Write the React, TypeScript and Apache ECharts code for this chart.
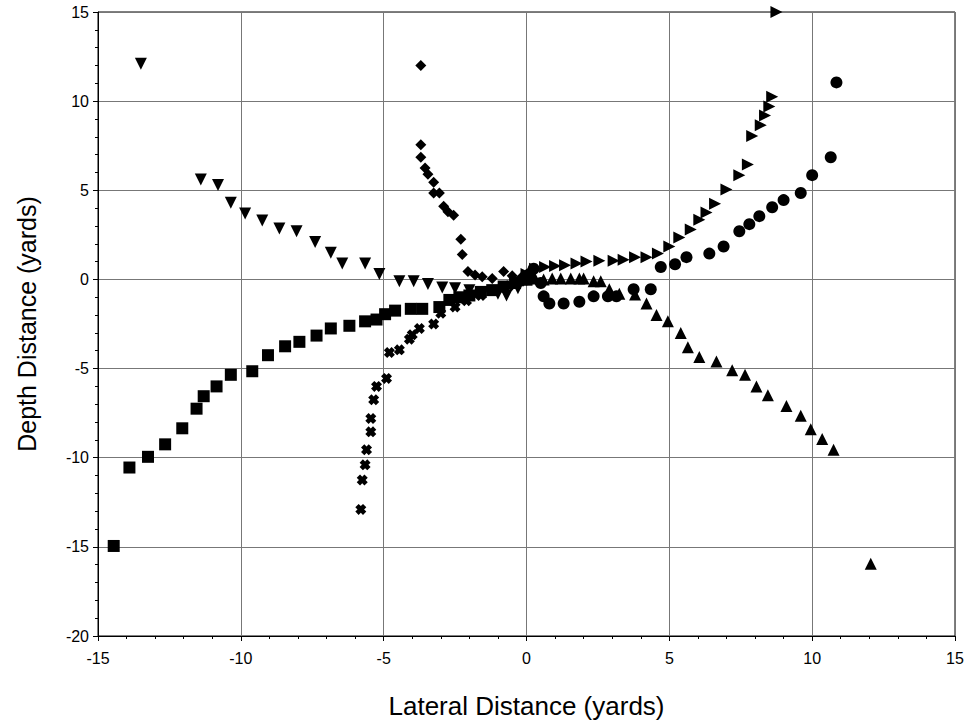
import React, { useEffect, useRef } from "react";
import * as echarts from "echarts";

const xTicks = [-15, -10, -5, 0, 5, 10, 15];
const yTicks = [-20, -15, -10, -5, 0, 5, 10, 15];

const downTriangles: [number, number][] = [
  [-13.5, 12.1], [-11.4, 5.6], [-10.8, 5.3], [-10.35, 4.3], [-9.85, 3.7], [-9.25, 3.3],
  [-8.65, 2.85], [-8.05, 2.7], [-7.4, 2.1], [-6.85, 1.5], [-6.45, 0.9], [-5.65, 0.9],
  [-5.15, 0.3], [-4.45, -0.1], [-3.95, -0.1], [-3.45, -0.25], [-2.95, -0.45], [-2.5, -0.5],
  [-2.0, -0.6], [-1.5, -0.7], [-1.0, -0.8], [-0.7, -0.9], [-0.3, -0.5], [0, 0],
];

const diamonds: [number, number][] = [
  [-3.7, 12.0], [-3.7, 7.55], [-3.7, 6.85], [-3.55, 6.25], [-3.45, 5.9], [-3.25, 5.45],
  [-3.25, 4.85], [-3.05, 4.85], [-2.9, 4.1], [-2.75, 3.8], [-2.55, 3.6], [-2.3, 2.25],
  [-2.25, 1.4], [-2.05, 0.45], [-1.8, 0.25], [-1.55, 0.15], [-1.2, 0.05], [-0.8, 0.45],
  [-0.5, 0.2], [-0.2, 0.1], [0, 0],
];

const squares: [number, number][] = [
  [-14.45, -14.95], [-13.9, -10.55], [-13.25, -9.95], [-12.65, -9.25], [-12.05, -8.35],
  [-11.55, -7.25], [-11.3, -6.55], [-10.85, -6.0], [-10.35, -5.35], [-9.6, -5.15],
  [-9.05, -4.25], [-8.45, -3.75], [-7.95, -3.5], [-7.35, -3.15], [-6.85, -2.75],
  [-6.2, -2.6], [-5.65, -2.35], [-5.25, -2.25], [-4.95, -1.95], [-4.6, -1.75],
  [-4.05, -1.65], [-3.65, -1.65], [-3.05, -1.55], [-2.7, -1.15], [-2.35, -1.0],
  [-2.0, -0.9], [-1.6, -0.7], [-1.2, -0.6], [-0.8, -0.4], [-0.4, -0.2], [0, 0],
];

const crosses: [number, number][] = [
  [-5.8, -12.9], [-5.75, -11.25], [-5.65, -10.4], [-5.6, -9.55], [-5.45, -8.55],
  [-5.45, -7.8], [-5.35, -6.75], [-5.25, -6.0], [-4.9, -5.55], [-4.8, -4.1],
  [-4.45, -3.95], [-4.1, -3.35], [-4.0, -3.1], [-3.75, -2.75], [-3.25, -2.5],
  [-3.0, -1.9], [-2.5, -1.55], [-2.1, -1.2], [-1.6, -0.9], [-1.1, -0.6],
  [-0.6, -0.35], [-0.2, -0.1],
];

const rightTriangles: [number, number][] = [
  [8.75, 15.0], [8.6, 10.25], [8.5, 9.7], [8.35, 9.2], [8.2, 8.65], [7.9, 8.05],
  [7.75, 6.45], [7.45, 5.85], [7.0, 5.05], [6.6, 4.25], [6.3, 3.75], [6.05, 3.35],
  [5.75, 2.8], [5.35, 2.35], [5.0, 1.85], [4.6, 1.45], [4.2, 1.25], [3.8, 1.25],
  [3.4, 1.1], [3.05, 1.05], [2.55, 1.05], [2.1, 1.0], [1.75, 0.9], [1.35, 0.8],
  [1.0, 0.75], [0.65, 0.7], [0.3, 0.6], [0, 0.3],
];

const circles: [number, number][] = [
  [10.85, 11.05], [10.65, 6.85], [10.0, 5.85], [9.6, 4.85], [9.0, 4.45], [8.6, 4.05],
  [8.15, 3.55], [7.8, 3.1], [7.45, 2.7], [6.9, 1.85], [6.4, 1.45], [5.6, 1.25],
  [5.2, 0.85], [4.7, 0.7], [4.35, -0.55], [3.75, -0.55], [3.15, -0.95], [2.85, -0.95],
  [2.35, -0.95], [1.85, -1.25], [1.3, -1.35], [0.8, -1.35], [0.6, -0.95], [0.5, -0.2],
  [0.25, 0.6], [0.1, 0.3], [0, 0],
];

const upTriangles: [number, number][] = [
  [12.05, -15.95], [10.75, -9.55], [10.35, -8.95], [9.95, -8.4], [9.6, -7.65],
  [9.1, -7.1], [8.45, -6.5], [8.05, -6.0], [7.65, -5.35], [7.2, -5.1], [6.65, -4.6],
  [6.05, -4.35], [5.65, -3.8], [5.4, -3.0], [4.95, -2.35], [4.55, -2.0], [4.2, -1.35],
  [3.8, -0.85], [3.25, -0.8], [2.9, -0.55], [2.6, -0.1], [2.35, -0.1], [2.0, 0.05],
  [1.85, 0.05], [1.55, 0.05], [1.2, 0.05], [0.9, 0.05], [0.6, 0.0], [0.3, 0.05], [0, 0],
];

const crossPath =
  "path://M0,3 L3,0 L5,2 L7,0 L10,3 L8,5 L10,7 L7,10 L5,8 L3,10 L0,7 L2,5 Z";

export default function App() {
  const ref = useRef<HTMLDivElement>(null);
  useEffect(() => {
    if (!ref.current) return;
    const chart = echarts.init(ref.current, undefined, { renderer: "svg" });
    const font = "Liberation Sans, Arial, sans-serif";
    const mk = (data: [number, number][], symbol: string, size: number, rotate = 0) => ({
      type: "scatter",
      data,
      symbol,
      symbolSize: size,
      symbolRotate: rotate,
      itemStyle: { color: "#000", opacity: 1 },
      emphasis: { disabled: true },
    });
    chart.setOption({
      animation: false,
      backgroundColor: "#fff",
      grid: {
        left: 98,
        right: 12,
        top: 12,
        bottom: 88,
        show: true,
        borderColor: "#000",
        borderWidth: 1,
        backgroundColor: "transparent",
      },
      xAxis: {
        type: "value",
        min: -15,
        max: 15,
        interval: 5,
        name: "Lateral Distance (yards)",
        nameLocation: "middle",
        nameGap: 57,
        nameTextStyle: { fontFamily: font, fontSize: 26, color: "#000" },
        axisLine: { show: true, onZero: false, lineStyle: { color: "#000", width: 1 } },
        axisTick: { show: true, length: 5, inside: false, lineStyle: { color: "#000" } },
        minorTick: { show: true, splitNumber: 5, length: 3, lineStyle: { color: "#000" } },
        axisLabel: {
          fontFamily: font,
          fontSize: 16,
          color: "#000",
          margin: 14,
          formatter: (v: number) => (xTicks.includes(v) ? String(v) : ""),
        },
        splitLine: { show: true, lineStyle: { color: "#777", width: 1 } },
      },
      yAxis: {
        type: "value",
        min: -20,
        max: 15,
        interval: 5,
        name: "Depth Distance (yards)",
        nameLocation: "middle",
        nameGap: 59,
        nameTextStyle: { fontFamily: font, fontSize: 25, color: "#000" },
        axisLine: { show: true, onZero: false, lineStyle: { color: "#000", width: 1 } },
        axisTick: { show: true, length: 5, inside: false, lineStyle: { color: "#000" } },
        minorTick: { show: true, splitNumber: 5, length: 3, lineStyle: { color: "#000" } },
        axisLabel: {
          fontFamily: font,
          fontSize: 16,
          color: "#000",
          margin: 9,
          formatter: (v: number) => (yTicks.includes(v) ? String(v) : ""),
        },
        splitLine: { show: true, lineStyle: { color: "#777", width: 1 } },
      },
      series: [
        mk(squares, "rect", 12),
        mk(crosses, crossPath, 11),
        mk(downTriangles, "triangle", 12, 180),
        mk(diamonds, "diamond", 11),
        mk(upTriangles, "triangle", 12),
        mk(circles, "circle", 12),
        mk(rightTriangles, "triangle", 12, -90),
      ],
    });
    return () => chart.dispose();
  }, []);
  return (
    <div
      ref={ref}
      style={{ position: "absolute", left: 0, top: 0, width: 967, height: 724 }}
    />
  );
}
